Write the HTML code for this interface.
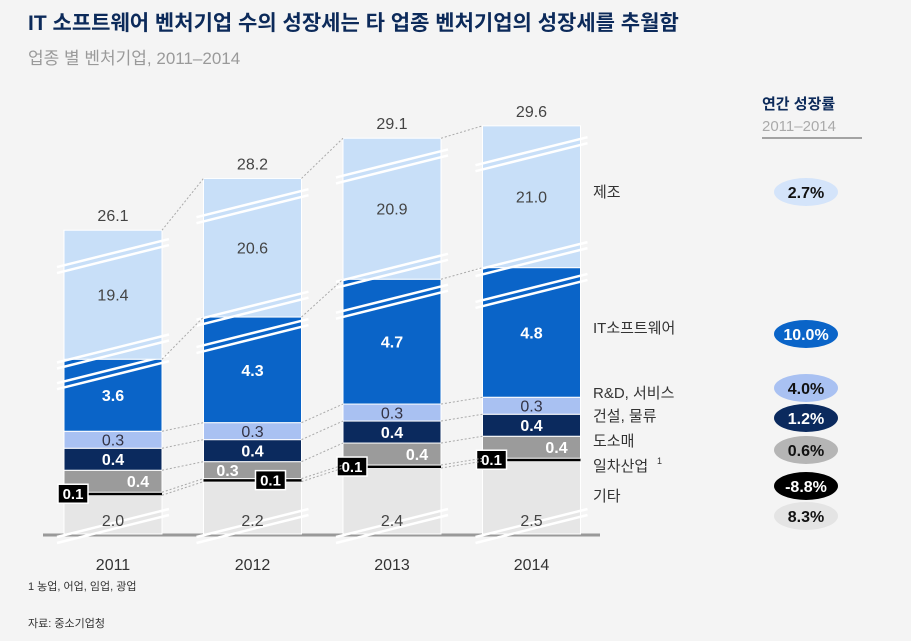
<!DOCTYPE html>
<html><head><meta charset="utf-8">
<style>
body{margin:0;background:#f4f4f4;}
#wrap{position:relative;width:911px;height:641px;overflow:hidden;background:#f4f4f4;font-family:"Liberation Sans","Noto Sans CJK KR",sans-serif;}
svg text{font-family:"Liberation Sans","Noto Sans CJK KR",sans-serif;}
</style></head>
<body>
<div id="wrap">
<svg id="chart" width="911" height="641">
<text x="28" y="30" font-size="21" font-weight="bold" fill="#0c2a5a">IT 소프트웨어 벤처기업 수의 성장세는 타 업종 벤처기업의 성장세를 추월함</text>
<text x="28" y="64" font-size="17" fill="#9a9a9a">업종 별 벤처기업, 2011–2014</text>
<text x="762" y="109" font-size="15" font-weight="bold" fill="#0c2a5a">연간 성장률</text>
<text x="762" y="131" font-size="15" fill="#aaaaaa">2011–2014</text>
<line x1="762" y1="138" x2="862" y2="138" stroke="#888" stroke-width="1.5"/>
<line x1="43" y1="535" x2="600" y2="535" stroke="#999" stroke-width="3"/>
<text x="28" y="590" font-size="11" fill="#333">1 농업, 어업, 임업, 광업</text>
<text x="28" y="627" font-size="11" fill="#333">자료: 중소기업청</text>
<g id="bars"></g>
<g id="legend"></g>
</svg>
</div>
<script>
const years = ["2011","2012","2013","2014"];
const totals = ["26.1","28.2","29.1","29.6"];
const others = [2.0, 2.2, 2.4, 2.5];
const primary = [0.1, 0.1, 0.1, 0.1];
const wholesale = [0.4, 0.3, 0.4, 0.4];
const construction = [0.4, 0.4, 0.4, 0.4];
const rnd = [0.3, 0.3, 0.3, 0.3];
const software = [3.6, 4.3, 4.7, 4.8];
const manufacturing = [19.4, 20.6, 20.9, 21.0];
const segNames = ["기타","일차산업","도소매","건설, 물류","R&D, 서비스","IT소프트웨어","제조"];
const growth = ["8.3%","-8.8%","0.6%","1.2%","4.0%","10.0%","2.7%"];

const NS="http://www.w3.org/2000/svg";
const g=document.getElementById('bars');
const lg=document.getElementById('legend');
function el(tag,attrs,parent){const e=document.createElementNS(NS,tag);for(const k in attrs)e.setAttribute(k,attrs[k]);(parent||g).appendChild(e);return e;}
function hOthers(v){return 68*(v-1.43);}
function hSmall(v){return 50*v+2;}
function hPrimary(v){return 30*v;}
function hSoft(v){return 48*(v-2.1);}
function hMfg(v){return 129+8*(v-19.4);}
function xBand(i){return 64+i*139.5;}
const BW=98, BASE=534;
const series=[
 {vals:others,h:hOthers,fill:"#e6e6e6",txt:"#444",bold:false,brk:[0.0]},
 {vals:primary,h:hPrimary,fill:"#000",txt:"#fff",bold:true,brk:[]},
 {vals:wholesale,h:hSmall,fill:"#9b9b9b",txt:"#fff",bold:true,brk:[]},
 {vals:construction,h:hSmall,fill:"#0b2a5e",txt:"#fff",bold:true,brk:[]},
 {vals:rnd,h:hSmall,fill:"#a9c1f2",txt:"#334",bold:false,brk:[]},
 {vals:software,h:hSoft,fill:"#0a64c8",txt:"#fff",bold:true,brk:[0.82]},
 {vals:manufacturing,h:hMfg,fill:"#c8dff8",txt:"#444",bold:false,brk:[0.06,0.8]}
];
const tops=[];
years.forEach((yr,i)=>{
  const x=xBand(i);let y=BASE;tops[i]=[];
  series.forEach((s,k)=>{
    const h=s.h(s.vals[i]);y-=h;tops[i][k]={top:y,h:h};
    const r=el('rect',{x:x,y:y,width:BW,height:h,fill:s.fill,stroke:k==1?"none":"#fff","stroke-width":1});
    
    
    s.brk.forEach(f=>{
      const cy=y+h*(1-f)-(k==0?8:0);
      [-3,3].forEach(d=>{
        const l=el('line',{x1:x-7,y1:cy+14+d,x2:x+BW+7,y2:cy-14+d,stroke:"#fff","stroke-width":2.5});
        
        
      });
    });
  });
  series.forEach((s,k)=>{
    const t=tops[i][k];let tx=x+BW/2,ty=t.top+t.h/2+6,anchor="middle",fs=16;
    if(k==0){ty=t.top+t.h-8;}
    if(k==1){
      const bx=(i==1)?x+60:x+2;
      const r=el('rect',{x:bx-8,y:t.top-8,width:30,height:19,fill:"#000",stroke:"#fff","stroke-width":1.5});
      
      
      tx=bx+7;ty=t.top+7;fs=15;
    }
    if(k==2){tx=(i==1)?x+24:x+BW-24;}
    const te=el('text',{x:tx,y:ty,"text-anchor":anchor,"font-size":fs,fill:s.txt,"font-weight":s.bold?"bold":"normal"});
    te.textContent=s.vals[i].toFixed(1);
    
    
  });
  const tt=el('text',{x:x+BW/2,y:tops[i][6].top-9,"text-anchor":"middle","font-size":16,fill:"#444"});
  tt.textContent=totals[i];
  
  
  const yl=el('text',{x:x+BW/2,y:570,"text-anchor":"middle","font-size":16,fill:"#333"});
  yl.textContent=yr;
  
  
});
for(let i=0;i<years.length-1;i++){
  for(let k=0;k<series.length;k++){
    const a=tops[i][k].top,b=tops[i+1][k].top;
    const l=el('line',{x1:xBand(i)+BW,y1:a,x2:xBand(i+1),y2:b,stroke:"#aaa","stroke-width":1,"stroke-dasharray":"2,2"});
    
    
  }
}
const labY=[501,471,446,421,398,333,197];
const pillY=[516,486,450,418,388,334,192];
const pillFill=["#e4e4e4","#000","#b5b5b5","#0b2a5e","#a9c1f2","#0a64c8","#d4e4fa"];
const pillTxt=["#111","#fff","#111","#fff","#111","#fff","#111"];
segNames.forEach((n,k)=>{
  const t=el('text',{x:593,y:labY[k],"font-size":15,fill:"#333"},lg);
  t.textContent=n;
  
  
  if(k==1){const s=el('text',{x:657,y:labY[k]-7,"font-size":9,fill:"#333"},lg);s.textContent="1";
    
    }
  const e=el('ellipse',{cx:806,cy:pillY[k],rx:32,ry:14,fill:pillFill[k]},lg);
  
  
  const p=el('text',{x:806,y:pillY[k]+6,"text-anchor":"middle","font-size":16,"font-weight":"bold",fill:pillTxt[k]},lg);
  p.textContent=growth[k];
  
  
});
</script>
</body></html>
